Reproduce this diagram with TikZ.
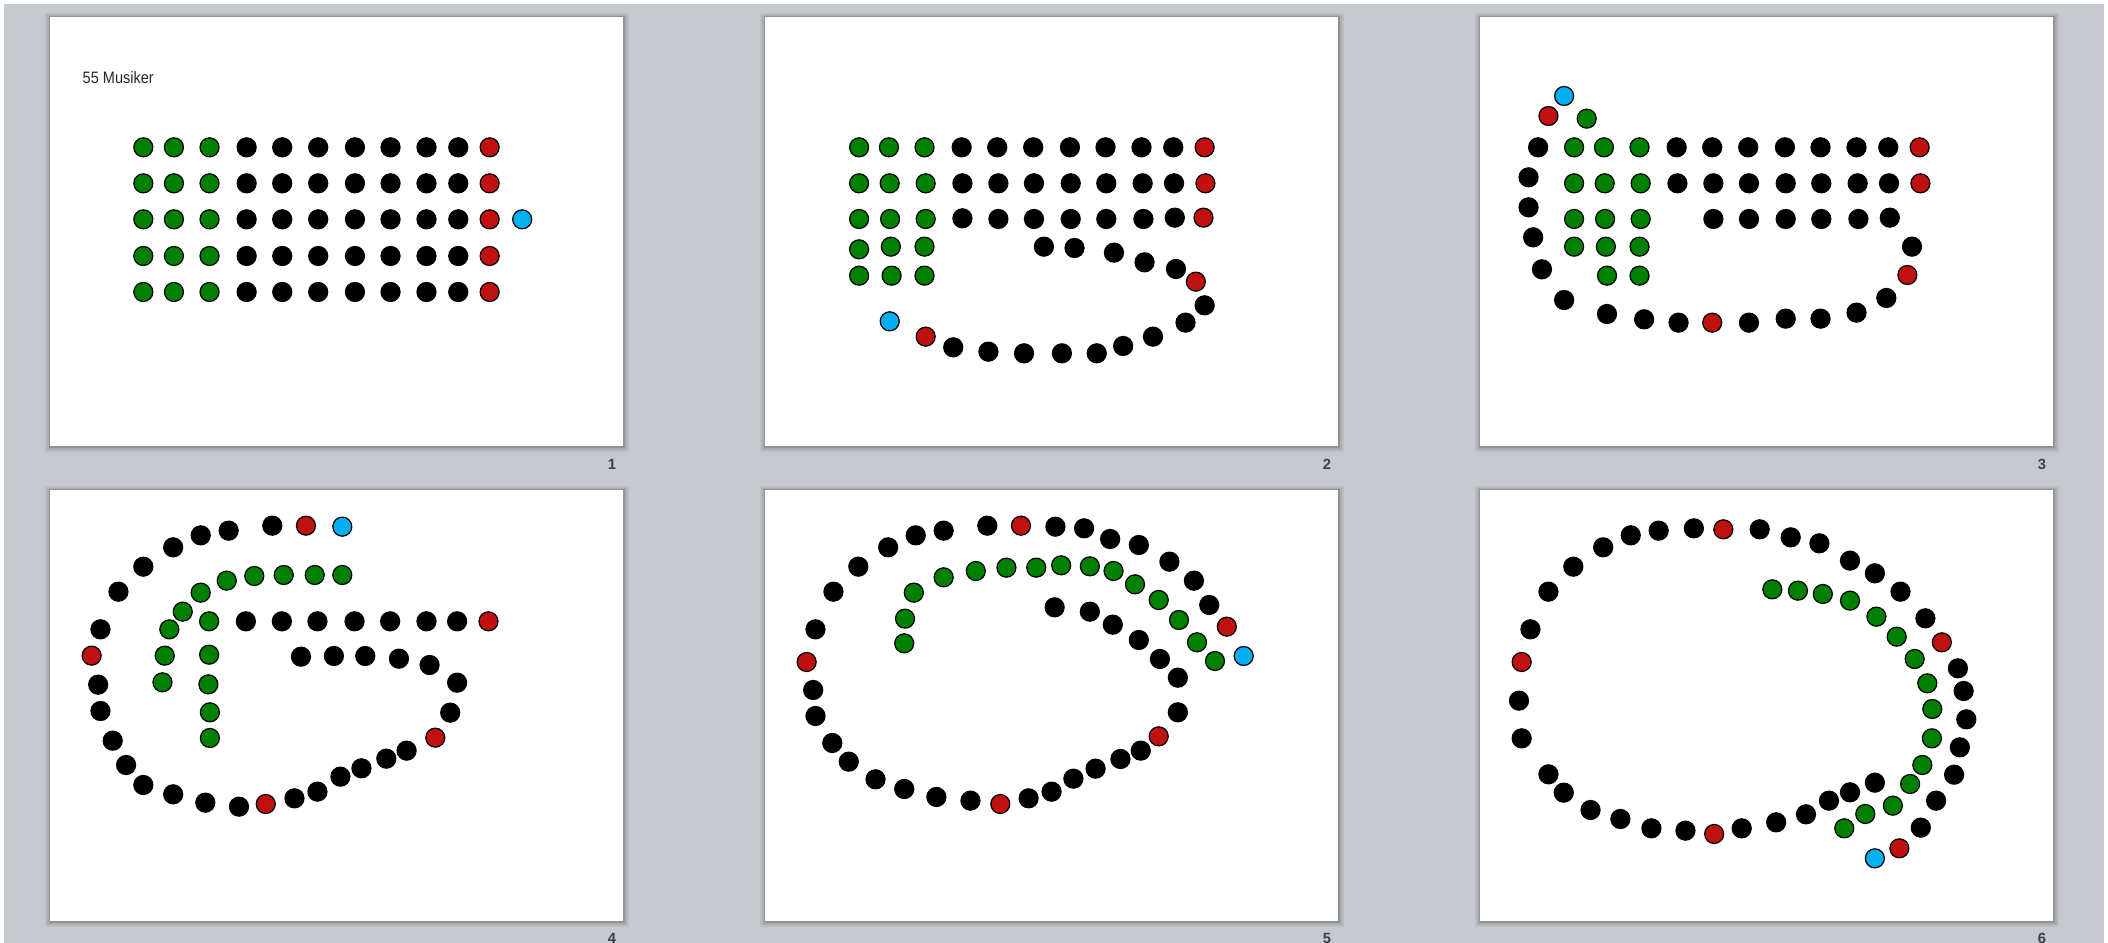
\documentclass[tikz,border=0pt]{standalone}
\usepackage{fontspec}
\setmainfont{Liberation Sans}
\definecolor{bggray}{RGB}{198,202,208}
\definecolor{dgreen}{RGB}{0,128,0}
\definecolor{dred}{RGB}{192,16,16}
\definecolor{dblue}{RGB}{0,176,240}
\definecolor{pnum}{RGB}{60,62,66}
\tikzset{
  dot/.style={circle,inner sep=0pt,minimum size=0.19cm,draw=black,line width=0.35pt},
  bk/.style={dot,fill=black},
  gn/.style={dot,fill=dgreen},
  rd/.style={dot,fill=dred},
  bl/.style={dot,fill=dblue},
  pagenum/.style={font=\fontsize{4.2}{5}\selectfont\bfseries,text=pnum,inner sep=0pt}
}
\newcommand\slideframe[4]{%
  \fill[black,opacity=0.06] ({#1-5},{#2-4}) rectangle ({#3+6},{#4+6});
  \fill[black,opacity=0.09] ({#1-3},{#2-2}) rectangle ({#3+4},{#4+4});
  \fill[black,opacity=0.14] ({#1-1},{#2-1}) rectangle ({#3+2},{#4+2});
  \fill[white] (#1,#2) rectangle (#3,#4);}
\newcommand\mkslide[6]{%
  \begin{scope}[shift={#2},xscale=0.38268,yscale=0.33333]
    \foreach \x/\y [count=\i] in {#3} \node[bk] (#1b\i) at (\x,\y) {};
    \foreach \x/\y [count=\i] in {#4} \node[gn] (#1g\i) at (\x,\y) {};
    \foreach \x/\y [count=\i] in {#5} \node[rd] (#1r\i) at (\x,\y) {};
    \node[bl] (#1c) at #6 {};
  \end{scope}}
\begin{document}
\begin{tikzpicture}[x=0.01cm,y=-0.01cm]
\useasboundingbox (0,0) rectangle (2108,943);
\fill[white] (0,0) rectangle (2108,943);
\fill[bggray] (4,4) rectangle (2104,943);
% slide frames
\slideframe{50}{17}{623}{446}
\slideframe{765}{17}{1338}{446}
\slideframe{1480}{17}{2053}{446}
\slideframe{50}{490}{623}{921}
\slideframe{765}{490}{1338}{921}
\slideframe{1480}{490}{2053}{921}
% page numbers
\node[pagenum] (p1) at (612,464) {1};
\node[pagenum] (p2) at (1327,464) {2};
\node[pagenum] (p3) at (2042,464) {3};
\node[pagenum] (p4) at (612,938) {4};
\node[pagenum] (p5) at (1327,938) {5};
\node[pagenum] (p6) at (2042,938) {6};
% slide 1
\node[anchor=base west,inner sep=0pt,text=black!85] (title) at (82,84)
  {\fontsize{4.7}{5.5}\selectfont\scalebox{0.88}[1]{55 Musiker}};
\begin{scope}[shift={(40,10)},xscale=0.38268,yscale=0.33333]
  \foreach \r/\y in {1/412,2/520,3/628,4/738,5/846}{
    \foreach \x [count=\c] in {270,350,443}
      \node[gn] (ag\r-\c) at (\x,\y) {};
    \foreach \x [count=\c] in {540,633,727,823,916,1010,1093}
      \node[bk] (ab\r-\c) at (\x,\y) {};
    \node[rd] (ar\r) at (1175,\y) {};
  }
  \node[bl] (ac) at (1260,628) {};
\end{scope}
% slide 2
\mkslide{b}{(755,10)}{540/412,633/412,727/412,823/412,916/412,1010/412,1093/412,
 542/520,636/520,729/520,825/520,918/520,1013/520,1095/520,
 542/625,636/627,729/627,825/627,918/627,1015/627,1097/623,
 755/710,835/714,938/728,1018/757,1100/777,1175/886,1125/938,1040/980,962/1008,
 893/1030,802/1030,703/1030,610/1025,518/1012}
 {272/412,350/412,443/412,272/520,352/520,446/520,272/627,353/627,446/627,
 272/718,355/710,443/710,272/797,357/797,443/797}
 {1175/412,1177/520,1172/623,1152/815,446/980}
 {(352,934)}
% slide 3
\mkslide{c}{(1470,10)}{178/412,540/412,633/412,727/412,823/412,916/412,1010/412,1093/412,
 542/520,636/520,729/520,825/520,918/520,1013/520,1095/520,
 636/627,729/627,825/627,918/627,1015/627,1097/623,
 153/502,153/592,165/682,188/778,246/870,
 358/912,455/928,545/938,729/938,825/926,916/926,1010/908,1088/864,1155/710}
 {305/326,272/412,350/412,443/412,272/520,352/520,446/520,272/627,353/627,446/627,
 272/710,355/710,443/710,358/797,443/797}
 {205/318,1175/412,1177/520,633/938,1143/795}
 {(246,258)}
% slide 4
\mkslide{d}{(40,480)}{205/335,270/260,348/202,420/166,493/152,607/137,
 538/424,632/424,725/424,822/424,915/424,1010/424,1090/424,
 682/530,768/528,850/528,938/536,1018/555,1090/608,1072/698,
 958/812,905/836,840/865,785/890,725/935,665/955,
 520/980,432/968,348/943,270/915,225/855,190/782,158/693,152/614,158/448}
 {790/285,718/285,637/285,560/288,488/302,420/338,373/395,338/448,326/527,320/607,
 442/424,442/524,440/613,444/697,444/774}
 {695/137,1172/424,1033/773,590/972,135/527}
 {(790,140)}
% slide 5
\mkslide{e}{(755,480)}{205/335,270/260,348/202,420/166,493/152,607/137,
 785/140,860/145,928/177,1003/195,1083/245,1147/302,1187/375,
 783/382,875/395,935/434,1003/480,1058/537,1105/593,1105/697,
 1008/812,955/837,890/866,832/896,775/935,715/955,
 563/962,474/951,390/927,315/898,245/845,202/789,158/708,152/630,158/448}
 {1202/543,1155/487,1108/420,1055/360,993/313,937/273,875/259,800/256,735/263,
 657/263,577/273,493/292,415/338,392/416,390/490}
 {695/137,1233/440,1055/769,641/972,135/546}
 {(1277,528)}
% slide 6
\mkslide{f}{(1470,480)}{158/448,205/335,270/260,348/202,420/166,493/152,585/145,
 757/148,838/172,913/190,993/242,1058/280,1125/335,1190/415,
 1275/565,1290/633,1297/718,1280/802,1265/884,1218/962,1178/1043,
 1058/908,993/937,938/962,878/1003,800/1027,710/1045,
 563/1052,474/1045,393/1017,315/990,245/938,205/883,135/775,128/662}
 {790/328,857/332,922/342,993/362,1062/410,1115/470,1162/537,1195/610,1208/687,
 1207/775,1182/855,1150/912,1105/977,1033/1002,978/1045}
 {662/148,1233/487,1122/1105,638/1062,135/546}
 {(1058,1135)}
\end{tikzpicture}
\end{document}
